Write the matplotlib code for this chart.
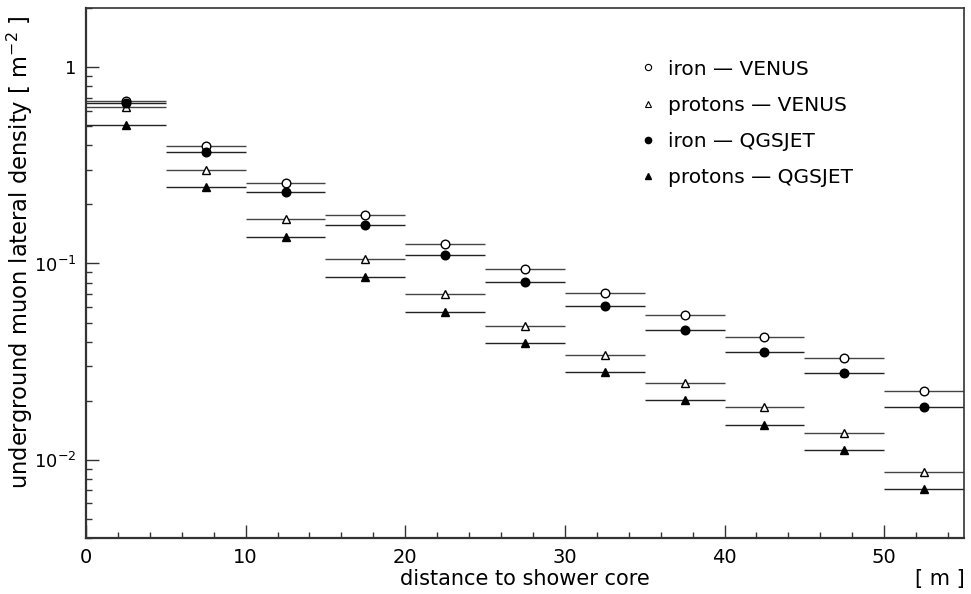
import matplotlib
matplotlib.use("Agg")
import matplotlib.pyplot as plt
from matplotlib.ticker import FixedLocator, FuncFormatter, NullFormatter
from matplotlib.lines import Line2D
import numpy as np

plt.rcParams['font.family'] = ['DejaVu Sans']
plt.rcParams['mathtext.fontset'] = 'dejavusans'

# bin centres (m) and half width
distance = [2.5, 7.5, 12.5, 17.5, 22.5, 27.5, 32.5, 37.5, 42.5, 47.5, 52.5]
half_width = 2.5

iron_venus = [0.670, 0.398, 0.257, 0.176, 0.126, 0.0940, 0.0709, 0.0544, 0.0423, 0.0332, 0.0225]
protons_venus = [0.626, 0.299, 0.169, 0.106, 0.0699, 0.0483, 0.0340, 0.0247, 0.0186, 0.0137, 0.0087]
iron_qgsjet = [0.655, 0.370, 0.231, 0.157, 0.111, 0.0807, 0.0604, 0.0457, 0.0355, 0.0277, 0.0186]
protons_qgsjet = [0.508, 0.245, 0.137, 0.0857, 0.0565, 0.0393, 0.0281, 0.0201, 0.0150, 0.0112, 0.00713]

labels = ['iron \u2014 VENUS', 'protons \u2014 VENUS', 'iron \u2014 QGSJET', 'protons \u2014 QGSJET']

fig = plt.figure(figsize=(9.71, 5.94), dpi=100)
ax = fig.add_axes([86/971, 56/594, 878/971, 530/594])

series = [
    (iron_venus, 'o', 'white', '#444444'),
    (protons_venus, '^', 'white', '#444444'),
    (iron_qgsjet, 'o', 'black', '#222222'),
    (protons_qgsjet, '^', 'black', '#222222'),
]
for vals, mk, fc, lc in series:
    ax.errorbar(distance, vals, xerr=half_width, fmt='none', ecolor=lc,
                elinewidth=1.0, capsize=0, zorder=2)
    ax.plot(distance, vals, linestyle='none', marker=mk, markersize=6.2,
            markerfacecolor=fc, markeredgecolor='black', markeredgewidth=1.0, zorder=3)

ax.set_yscale('log')
ax.set_xlim(0, 55)
ax.set_ylim(0.004, 2.0)

ax.xaxis.set_major_locator(FixedLocator([0, 10, 20, 30, 40, 50]))
ax.xaxis.set_minor_locator(FixedLocator(np.arange(0, 56, 2)))
ax.yaxis.set_major_locator(FixedLocator([0.01, 0.1, 1.0]))
minors = [m * 10.0**e for e in (-3, -2, -1, 0) for m in range(2, 10)]
ax.yaxis.set_minor_locator(FixedLocator(minors))

def yfmt(v, pos):
    if abs(v - 1.0) < 1e-9:
        return '1'
    e = int(round(np.log10(v)))
    return r'$\mathregular{10^{%d}}$' % e

ax.yaxis.set_major_formatter(FuncFormatter(yfmt))
ax.yaxis.set_minor_formatter(NullFormatter())

ax.tick_params(axis='both', which='both', direction='in', top=False, right=False,
               labelsize=14, color='#333333')
ax.tick_params(axis='y', which='major', labelsize=13)
ax.tick_params(axis='both', which='major', length=9.5, width=1.0, pad=7)
ax.tick_params(axis='both', which='minor', length=4.5, width=1.0)

for s in ax.spines.values():
    s.set_linewidth(1.2)
    s.set_color('#333333')
ax.spines['left'].set_linewidth(1.6)
ax.spines['bottom'].set_linewidth(1.6)

fig.text(20/971, 1 - 252/594, 'underground muon lateral density [ m$^{\\mathregular{-2}}$ ]',
         rotation=90, ha='center', va='center', fontsize=16.3)
fig.text(525/971, 1 - 579/594, 'distance to shower core', ha='center', va='center', fontsize=15)
fig.text(940/971, 1 - 579/594, '[ m ]', ha='center', va='center', fontsize=15)

handles = [
    Line2D([], [], linestyle='none', marker='o', markersize=4.5, markerfacecolor='white',
           markeredgecolor='black', markeredgewidth=0.8),
    Line2D([], [], linestyle='none', marker='^', markersize=4.5, markerfacecolor='white',
           markeredgecolor='black', markeredgewidth=0.8),
    Line2D([], [], linestyle='none', marker='o', markersize=4.5, markerfacecolor='black',
           markeredgecolor='black'),
    Line2D([], [], linestyle='none', marker='^', markersize=4.5, markerfacecolor='black',
           markeredgecolor='black'),
]
ax.legend(handles, labels, loc='upper left', bbox_to_anchor=(0.61, 0.937), frameon=False,
          fontsize=14.5, labelspacing=0.85, handlelength=0.8, handletextpad=0.6)

fig.savefig('out.png', dpi=100)
